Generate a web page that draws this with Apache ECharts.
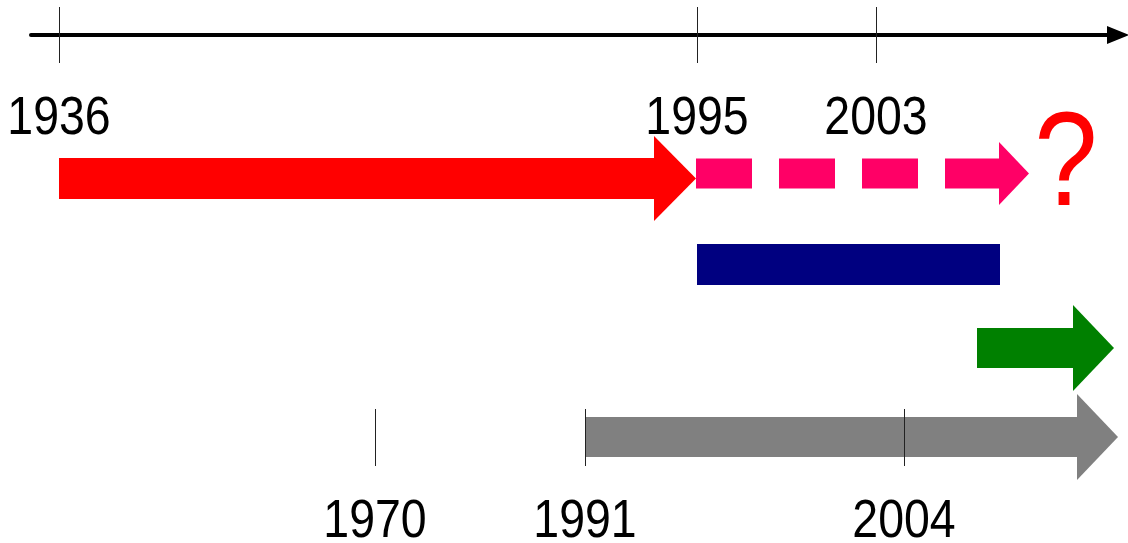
<!DOCTYPE html>
<html>
<head>
<meta charset="utf-8">
<script src="https://cdn.jsdelivr.net/npm/echarts@6/dist/echarts.min.js"></script>
<style>
html, body { margin: 0; padding: 0; background: #fff; }
#main { width: 1128px; height: 543px; }
</style>
</head>
<body>
<div id="main"></div>
<script>
// schematic time line: positions along the (non linear) time axis
var topYears = ['1936', '1995', '2003'];
var topPos = [59, 697, 876];
var bottomYears = ['1970', '1991', '2004'];
var bottomPos = [375, 585, 904];

// arrows: start / end on the time axis, row on the vertical axis
var barStart = [59, 696, 697, 977, 585];
var barEnd = [696, 1029, 1000, 1114, 1118];
var barRow = [178.5, 173.5, 264.5, 348, 437];

var questionText = ['?'];
var questionPos = [1066];
var questionRow = [168];

var font = 'Liberation Sans, Arial, sans-serif';

// look of each arrow
var arrowStyles = [
    { color: '#ff0000', body: 41, head: 42, wing: 42.5 },
    { color: '#ff0066', body: 30, head: 30, wing: 31.5, dash: [56, 27] },
    { color: '#000080', body: 41, head: 0 },
    { color: '#008000', body: 40, head: 41, wing: 43 },
    { color: '#808080', body: 40, head: 41, wing: 43 }
];
// vertical place of the two rows of year labels
var labelRows = { top: 119.5, bottom: 522 };

var arrowData = [];
for (var i = 0; i < barStart.length; i++) {
    arrowData.push([barStart[i], barEnd[i], barRow[i], i]);
}
// label texts are kept apart, the series only holds numbers
var labelTexts = [];
var labelData = [];
for (var i = 0; i < topYears.length; i++) {
    labelTexts.push(topYears[i]);
    labelData.push([topPos[i], labelRows.top, 0]);
}
for (var i = 0; i < bottomYears.length; i++) {
    labelTexts.push(bottomYears[i]);
    labelData.push([bottomPos[i], labelRows.bottom, 0]);
}
for (var i = 0; i < questionText.length; i++) {
    labelTexts.push(questionText[i]);
    labelData.push([questionPos[i], questionRow[i], 1]);
}

function renderArrow(params, api) {
    var st = arrowStyles[api.value(3)];
    var p0 = api.coord([api.value(0), api.value(2)]);
    var p1 = api.coord([api.value(1), api.value(2)]);
    var y = p0[1];
    var base = p1[0] - st.head;
    var half = st.body / 2;
    var children = [];
    if (st.dash) {
        for (var x = p0[0]; x < base; x += st.dash[0] + st.dash[1]) {
            children.push({
                type: 'rect',
                shape: { x: x, y: y - half, width: Math.min(st.dash[0], base - x), height: st.body },
                style: { fill: st.color }
            });
        }
    } else {
        children.push({
            type: 'rect',
            shape: { x: p0[0], y: y - half, width: base - p0[0], height: st.body },
            style: { fill: st.color }
        });
    }
    if (st.head) {
        children.push({
            type: 'polygon',
            shape: { points: [[base, y - st.wing], [p1[0], y], [base, y + st.wing]] },
            style: { fill: st.color }
        });
    }
    return { type: 'group', children: children };
}

function renderLabel(params, api) {
    var p = api.coord([api.value(0), api.value(1)]);
    var isMark = api.value(2) === 1;
    return {
        type: 'text',
        x: p[0],
        y: p[1],
        scaleX: isMark ? 0.85 : 0.86,
        style: {
            text: labelTexts[params.dataIndex],
            fontSize: isMark ? 134 : 54,
            fontFamily: font,
            fill: isMark ? '#ff0000' : '#000',
            align: 'center',
            verticalAlign: 'middle'
        }
    };
}

var chart = echarts.init(document.getElementById('main'));
chart.setOption({
    animation: false,
    backgroundColor: '#fff',
    grid: { left: 31, right: 10, top: 35, bottom: 77, outerBoundsMode: 'none', containLabel: false },
    xAxis: [{
        // the main time line with its arrow
        type: 'value',
        position: 'top',
        min: 31,
        max: 1118,
        axisLine: {
            show: true,
            onZero: false,
            symbol: ['none', 'triangle'],
            symbolSize: [18, 22],
            lineStyle: { color: '#000', width: 4 }
        },
        axisTick: {
            show: true,
            customValues: topPos,
            length: 28,
            lineStyle: { color: '#222', width: 1 }
        },
        axisLabel: { show: false },
        splitLine: { show: false }
    }, {
        // lower half of the ticks on the time line
        type: 'value',
        position: 'top',
        min: 31,
        max: 1118,
        axisLine: { show: false, onZero: false },
        axisTick: {
            show: true,
            inside: true,
            customValues: topPos,
            length: 28,
            lineStyle: { color: '#222', width: 1 }
        },
        axisLabel: { show: false },
        splitLine: { show: false }
    }, {
        // second time scale under the grey arrow
        type: 'value',
        position: 'bottom',
        min: 31,
        max: 1118,
        z: 5,
        axisLine: { show: false, onZero: false },
        axisTick: {
            show: true,
            inside: true,
            customValues: bottomPos,
            length: 57,
            lineStyle: { color: '#222', width: 1 }
        },
        axisLabel: { show: false },
        splitLine: { show: false }
    }],
    yAxis: {
        type: 'value',
        min: 35,
        max: 466,
        inverse: true,
        show: false
    },
    series: [{
        type: 'custom',
        xAxisIndex: 0,
        renderItem: renderArrow,
        data: arrowData,
        z: 2
    }, {
        type: 'custom',
        xAxisIndex: 0,
        renderItem: renderLabel,
        data: labelData,
        z: 3
    }]
});
</script>
</body>
</html>
